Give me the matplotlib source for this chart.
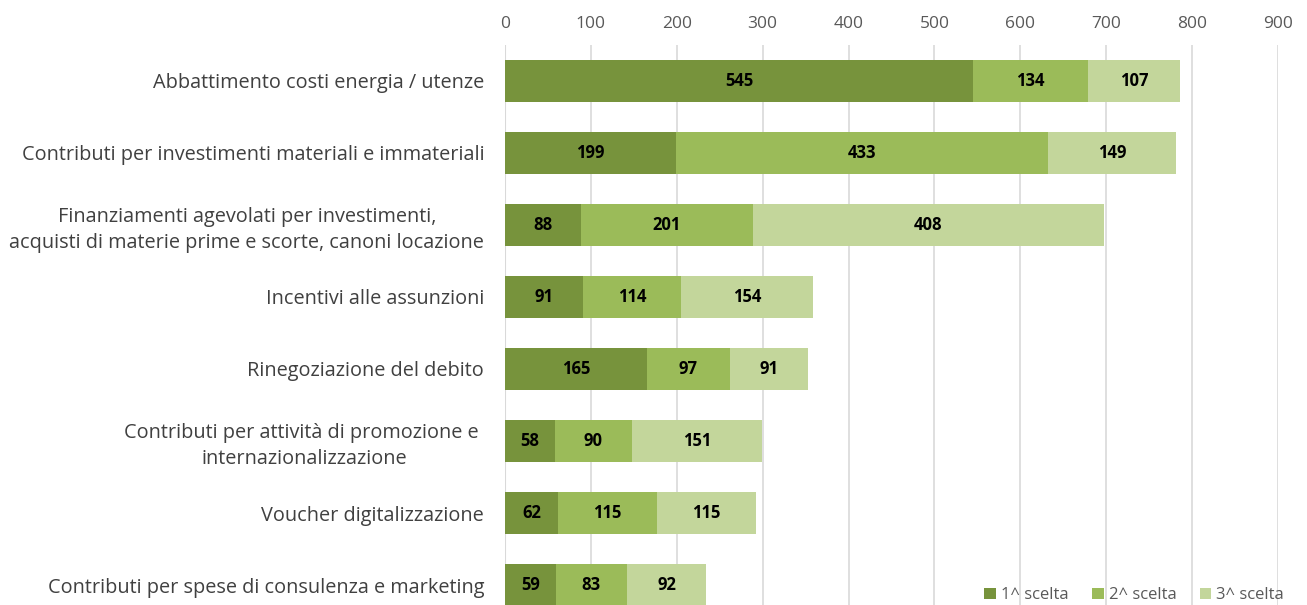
import numpy as np
import matplotlib.pyplot as plt

categories = [
    "Abbattimento costi energia / utenze",
    "Contributi per investimenti materiali e immateriali",
    "Finanziamenti agevolati per investimenti,\nacquisti di materie prime e scorte, canoni locazione",
    "Incentivi alle assunzioni",
    "Rinegoziazione del debito",
    "Contributi per attività di promozione e \ninternazionalizzazione",
    "Voucher digitalizzazione",
    "Contributi per spese di consulenza e marketing",
]
scelta1 = [545, 199, 88, 91, 165, 58, 62, 59]
scelta2 = [134, 433, 201, 114, 97, 90, 115, 83]
scelta3 = [107, 149, 408, 154, 91, 151, 115, 92]
series_names = ["1^ scelta", "2^ scelta", "3^ scelta"]
colors = ["#77933C", "#9BBB59", "#C3D69B"]

plt.rcParams['font.family'] = ['Open Sans', 'DejaVu Sans']

fig = plt.figure(figsize=(13.07, 6.05), dpi=100)
ax = fig.add_axes([505 / 1307, 0.0, (1278 - 505) / 1307, 1 - 45 / 605])

y = np.arange(len(categories))
left = np.zeros(len(categories))
for vals, name, col in zip([scelta1, scelta2, scelta3], series_names, colors):
    bars = ax.barh(y, vals, left=left, height=0.58, color=col, label=name, zorder=3)
    for b, v in zip(bars, vals):
        ax.text(b.get_x() + b.get_width() / 2, b.get_y() + b.get_height() / 2, str(v),
                ha='center', va='center', fontsize=12, fontweight='bold', color='black', zorder=4)
    left += np.array(vals)

ax.set_xlim(0, 900)
ax.set_ylim(7.5 - 16 / 72, -0.5)
ax.set_xticks(range(0, 901, 100))
ax.xaxis.tick_top()
ax.tick_params(axis='x', length=0, labelsize=12.5, labelcolor='#595959', pad=9)
ax.tick_params(axis='y', length=0, labelsize=14.3, labelcolor='#404040', pad=15)
ax.set_yticks(y)
ax.set_yticklabels(categories, ha='right', multialignment='center', linespacing=1.4)
ax.grid(axis='x', color='#D9D9D9', linewidth=1.2, zorder=0)
for s in ax.spines.values():
    s.set_visible(False)
ax.axvline(0, color='#D9D9D9', linewidth=1.5, zorder=2)

leg = ax.legend(loc='lower right', bbox_to_anchor=(1.01, 0.0), ncol=3, frameon=False,
                fontsize=12, handlelength=0.7, handleheight=0.7, handletextpad=0.3,
                columnspacing=1.4, borderaxespad=0, borderpad=0.1)
for t in leg.get_texts():
    t.set_color('#595959')

fig.savefig('out.png', dpi=100)
